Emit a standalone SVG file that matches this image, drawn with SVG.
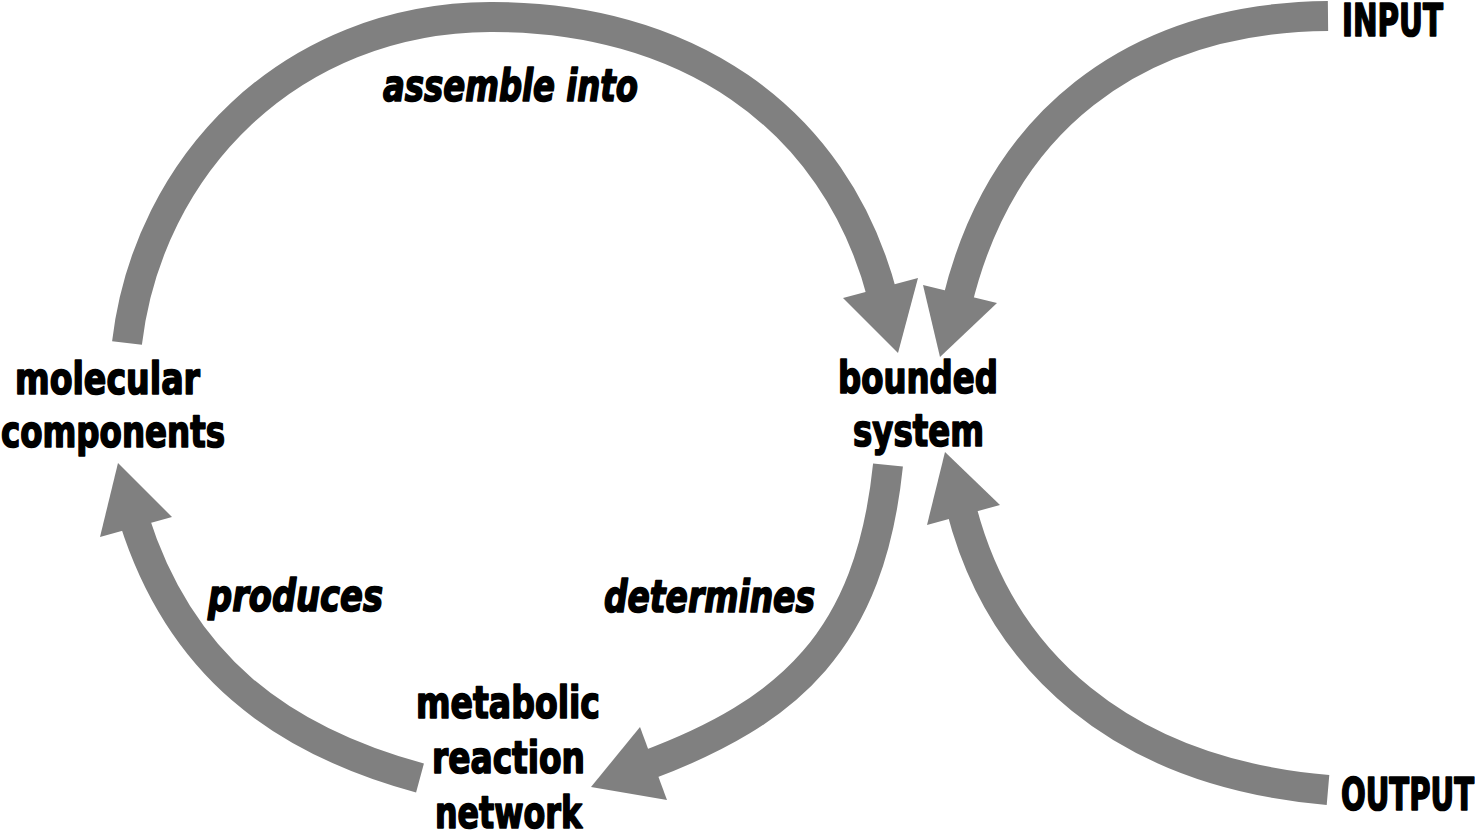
<svg xmlns="http://www.w3.org/2000/svg" width="1475" height="834" viewBox="0 0 1475 834">
<style>
.shaft{fill:none;stroke:#808080;stroke-width:30;stroke-linecap:butt}
.head{fill:#808080;stroke:none}
.t{font-family:"DejaVu Sans","Liberation Sans",sans-serif;font-weight:bold;font-stretch:condensed;font-size:44px;fill:#000;stroke:#000;stroke-width:1.6;stroke-linejoin:round}
.i{font-style:italic}
</style>
<rect width="1475" height="834" fill="#fff"/>
<g id="connectors">
<g id="assemble-into"><path class="shaft" d="M127,343 C148,165 290,18 490,17 C680,16 835,112 883,298"/><polygon class="head" points="843,298 918,278 898,353"/></g>
<g id="input-arrow"><path class="shaft" d="M1328,16 C1130,18 1000,125 957,303"/><polygon class="head" points="923,285 997,303 940,357"/></g>
<g id="determines"><path class="shaft" d="M888,465 C870,640 790,712 645,766"/><polygon class="head" points="640,727 667,800 591,787"/></g>
<g id="output-arrow"><path class="shaft" d="M1328,790 C1120,772 1000,660 961,507"/><polygon class="head" points="927,525 1000,505 945,452"/></g>
<g id="produces"><path class="shaft" d="M420,778 C280,740 180,665 134,519"/><polygon class="head" points="100,537 172,517 118,463"/></g>
<text class="t i" x="383" y="101" textLength="255" lengthAdjust="spacingAndGlyphs">assemble into</text>
<text class="t i" x="208" y="611" textLength="175" lengthAdjust="spacingAndGlyphs">produces</text>
<text class="t i" x="604" y="612" textLength="211" lengthAdjust="spacingAndGlyphs">determines</text>
</g>
<g id="molecular-components">
<text class="t" x="15" y="394" textLength="185" lengthAdjust="spacingAndGlyphs">molecular</text>
<text class="t" x="1" y="447" textLength="224" lengthAdjust="spacingAndGlyphs">components</text>
</g>
<g id="bounded-system">
<text class="t" x="838" y="393" textLength="160" lengthAdjust="spacingAndGlyphs">bounded</text>
<text class="t" x="853" y="446" textLength="131" lengthAdjust="spacingAndGlyphs">system</text>
</g>
<g id="metabolic-reaction-network">
<text class="t" x="416" y="718" textLength="184" lengthAdjust="spacingAndGlyphs">metabolic</text>
<text class="t" x="432" y="773" textLength="153" lengthAdjust="spacingAndGlyphs">reaction</text>
<text class="t" x="435" y="828" textLength="147" lengthAdjust="spacingAndGlyphs">network</text>
</g>
<g id="input"><text class="t" x="1342" y="36" textLength="101" lengthAdjust="spacingAndGlyphs">INPUT</text></g>
<g id="output"><text class="t" x="1341" y="810" textLength="133" lengthAdjust="spacingAndGlyphs">OUTPUT</text></g>
</svg>
